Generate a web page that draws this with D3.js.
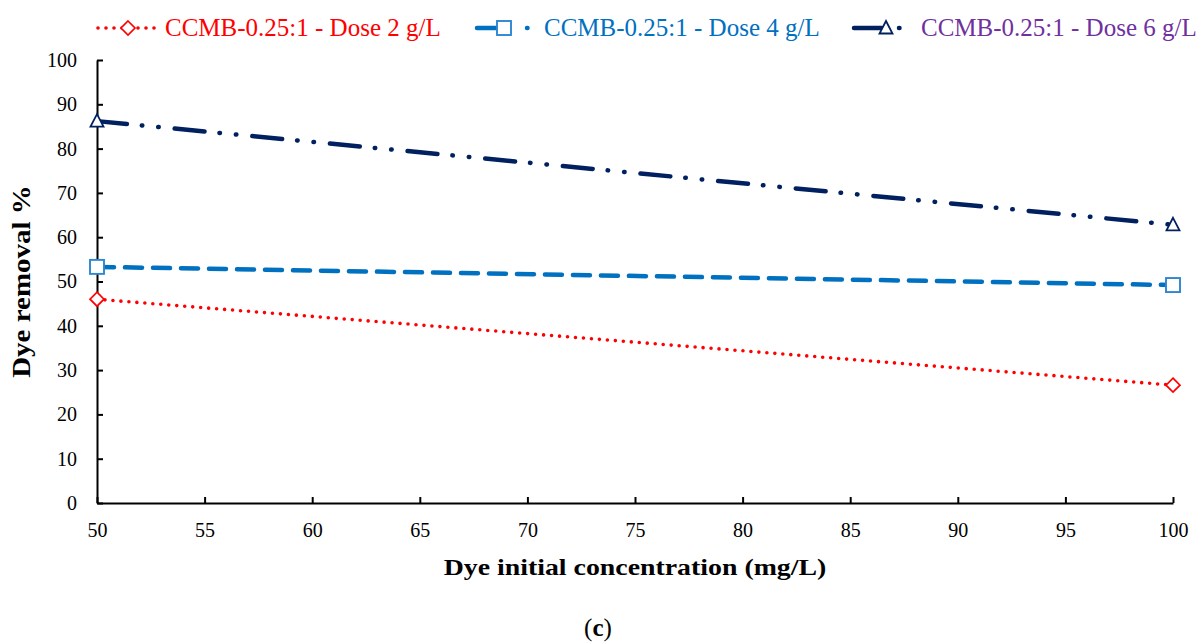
<!DOCTYPE html>
<html><head><meta charset="utf-8">
<script src="https://cdn.jsdelivr.net/npm/d3@7"></script>
<style>body{margin:0;background:#fff}svg{display:block}text{font-family:"Liberation Serif","Times New Roman",serif}</style>
</head><body><svg id="c" width="1200" height="642"></svg>
<script>
const concentrations = [50, 100];
const dose2 = [46.0, 26.6];
const dose4 = [53.3, 49.2];
const dose6 = [86.2, 62.8];
const seriesNames = ["CCMB-0.25:1 - Dose 2 g/L", "CCMB-0.25:1 - Dose 4 g/L", "CCMB-0.25:1 - Dose 6 g/L"];
const xTicks = [50,55,60,65,70,75,80,85,90,95,100];
const yTicks = [0,10,20,30,40,50,60,70,80,90,100];

const svg = d3.select("#c");
const x = d3.scaleLinear().domain([50,100]).range([97,1173]);
const y = d3.scaleLinear().domain([0,100]).range([503,60]);

const series = [
  {name:seriesNames[0], vals:dose2, color:"#FF0000", text:"#FF0000", dash:"0 8", width:3.6, marker:"diamond", legDash:"0 8"},
  {name:seriesNames[1], vals:dose4, color:"#0070C0", text:"#0070C0", dash:"17 11", width:4.5, marker:"square", legDash:"20 30 0.5 40"},
  {name:seriesNames[2], vals:dose6, color:"#002060", text:"#7030A0", dash:"30 15 0.5 16 0.5 16", width:4.5, marker:"triangle", legDash:"28 17 0.5 40"}
];

// axes
const xAxis = d3.axisBottom(x).tickValues(xTicks).tickSizeInner(-6).tickSizeOuter(0).tickPadding(20);
const gx = svg.append("g").attr("transform",`translate(0,${y(0)})`).call(xAxis);
const yAxis = d3.axisLeft(y).tickValues(yTicks).tickSizeInner(-6).tickSizeOuter(0).tickPadding(20);
const gy = svg.append("g").attr("transform",`translate(${x(50)},0)`).call(yAxis);
[gx,gy].forEach(g=>{
  g.selectAll("path,line").attr("stroke","#000").attr("stroke-width",2);
  g.selectAll("text").attr("font-size",20).attr("fill","#000").style("font-family",'"Liberation Serif",serif');
});

const line = d3.line().x((d,i)=>x(concentrations[i])).y(d=>y(d));
function marker(g, type, cx, cy, color){
  if(type==="diamond"){
    g.append("path").attr("d",`M${cx},${cy-7}L${cx+7},${cy}L${cx},${cy+7}L${cx-7},${cy}Z`)
     .attr("fill","#fff").attr("stroke",color).attr("stroke-width",1.7);
  } else if(type==="square"){
    g.append("rect").attr("x",cx-7).attr("y",cy-7).attr("width",14).attr("height",14)
     .attr("fill","#fff").attr("stroke","#2E86D0").attr("stroke-width",1.9);
  } else {
    g.append("path").attr("d",`M${cx},${cy-7}L${cx+6.5},${cy+5.5}L${cx-6.5},${cy+5.5}Z`)
     .attr("fill","#fff").attr("stroke",color).attr("stroke-width",1.8);
  }
}
series.forEach(s=>{
  svg.append("path").datum(s.vals).attr("d",line).attr("fill","none")
    .attr("stroke",s.color).attr("stroke-width",s.width).attr("stroke-dasharray",s.dash).attr("stroke-linecap","round");
  s.vals.forEach((v,i)=>marker(svg,s.marker,x(concentrations[i]),y(v),s.color));
});

// axis titles
svg.append("text").attr("transform",`translate(${x(75)},575) scale(1.16,1)`).attr("text-anchor","middle")
  .attr("font-size",24).attr("font-weight","bold").text("Dye initial concentration (mg/L)");
svg.append("text").attr("transform",`translate(30,${y(50)}) rotate(-90) scale(1.16,1)`).attr("text-anchor","middle")
  .attr("font-size",25).attr("font-weight","bold").text("Dye removal %");

// legend
const legendPos = [{lx1:98,lx2:157,mx:128,tx:165},{lx1:477,lx2:528,mx:504,tx:544},{lx1:854,lx2:900,mx:886,tx:921}];
series.forEach((s,i)=>{
  const p = legendPos[i], ly = 28;
  const g = svg.append("g");
  g.append("line").attr("x1",p.lx1).attr("x2",p.lx2).attr("y1",ly).attr("y2",ly)
    .attr("stroke",s.color).attr("stroke-width",s.width).attr("stroke-dasharray",s.legDash).attr("stroke-linecap","round");
  marker(g,s.marker,p.mx,ly,s.color);
  g.append("text").attr("x",p.tx).attr("y",ly+8).attr("font-size",25).attr("fill",s.text).text(s.name);
});

// caption
const cap = svg.append("text").attr("x",598).attr("y",636).attr("text-anchor","middle").attr("font-size",25).attr("fill","#000");
cap.append("tspan").text("(");
cap.append("tspan").attr("font-weight","bold").text("c");
cap.append("tspan").text(")");
</script></body></html>
